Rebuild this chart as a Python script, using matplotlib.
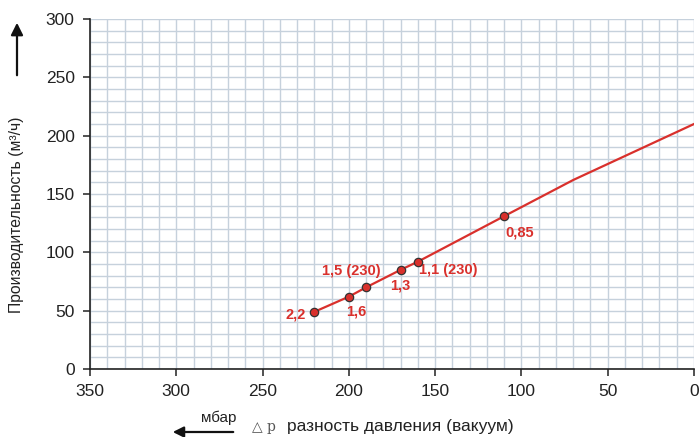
import matplotlib
matplotlib.use("Agg")
import matplotlib.pyplot as plt
import numpy as np

# Data
line_x = [220, 200, 190, 170, 160, 110, 70, 0]
line_y = [49, 62, 70, 85, 92, 131, 162, 210]
pts_x = [220, 200, 190, 170, 160, 110]
pts_y = [49, 62, 70, 85, 92, 131]
pts_labels = ["2,2", "1,6", "1,5 (230)", "1,3", "1,1 (230)", "0,85"]
label_offsets = [(-6, -2), (5, -11), (-11, 12), (0, -11), (22, -6), (11.5, -11.5)]
label_ha = ["right", "center", "center", "center", "center", "center"]
xticks = [350, 300, 250, 200, 150, 100, 50, 0]
yticks = [0, 50, 100, 150, 200, 250, 300]

red = "#d9302c"
plt.rcParams['font.family'] = ['Liberation Sans', 'DejaVu Sans']

fig = plt.figure(figsize=(7, 4.37), dpi=100)
ax = fig.add_axes([90/700, (437-369)/437, (694-90)/700, (369-19)/437])
ax.set_xlim(350, 0)
ax.set_ylim(0, 300)
ax.set_xticks(xticks)
ax.set_yticks(yticks)
ax.set_xticks(np.arange(0, 351, 10), minor=True)
ax.set_yticks(np.arange(0, 301, 10), minor=True)
ax.grid(True, which='both', color='#c6d1dc', linewidth=1.0)
ax.set_axisbelow(True)
ax.tick_params(which='minor', length=0)
ax.tick_params(which='major', length=5, width=1.1, labelsize=12.5, colors='#222222', pad=6)
for s in ['top', 'right']:
    ax.spines[s].set_visible(False)
for s in ['left', 'bottom']:
    ax.spines[s].set_color('#222222')
    ax.spines[s].set_linewidth(1.2)

ax.plot(line_x, line_y, color=red, linewidth=1.6, zorder=3)
ax.scatter(pts_x, pts_y, s=36, color=red, edgecolor='#333333', linewidth=0.9, zorder=4, clip_on=False)
for x, y, t, off, ha in zip(pts_x, pts_y, pts_labels, label_offsets, label_ha):
    ax.annotate(t, (x, y), xytext=off, textcoords='offset points', ha=ha, va='center',
                color=red, fontsize=10.5, fontweight='bold')

# Y label and arrow
fig.text(17/700, 1 - 215/437, "Производительность (м³/ч)", rotation=90, ha='center', va='center',
         fontsize=11.3, color='#222222')
fig.add_artist(matplotlib.patches.FancyArrowPatch((17/700, 1 - 78/437), (17/700, 1 - 20/437),
               transform=fig.transFigure, arrowstyle='-|>', mutation_scale=18, color='#111111', lw=1.6))

# X label and arrow
fig.text(287/700, 1 - 427/437, "разность давления (вакуум)", ha='left', va='center', fontsize=12.5, color='#222222')
fig.text(252/700, 1 - 427/437, "△ p", ha='left', va='center', fontsize=10, color='#555555', family='DejaVu Serif')
fig.text(219/700, 1 - 418/437, "мбар", ha='center', va='center', fontsize=11, color='#222222')
fig.add_artist(matplotlib.patches.FancyArrowPatch((236/700, 1 - 432/437), (170/700, 1 - 432/437),
               transform=fig.transFigure, arrowstyle='-|>', mutation_scale=16, color='#111111', lw=1.6))

fig.savefig("out.png", dpi=100)
